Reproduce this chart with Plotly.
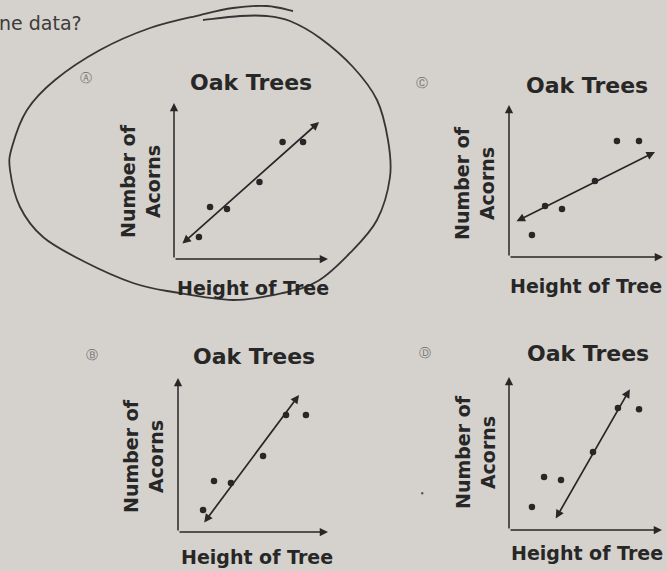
import plotly.graph_objects as go

W, H = 667, 571
BG = "#d5d1cc"
INK = "#272727"
PEN = "#353535"
FONT = "DejaVu Sans"

# Answer choices in reading order of the grid: A (top-left), C (top-right),
# B (bottom-left), D (bottom-right).  Axis units run 0-10 on both axes.
choices = ["A", "C", "B", "D"]

a_height = [1.62, 2.34, 3.44, 5.55, 7.05, 8.38]
a_acorns = [1.41, 3.33, 3.21, 4.94, 7.50, 7.50]
a_fit_height = [0.45, 9.42]
a_fit_acorns = [0.90, 8.78]

c_height = [1.49, 2.34, 3.44, 5.58, 7.01, 8.44]
c_acorns = [1.45, 3.36, 3.16, 5.00, 7.63, 7.63]
c_fit_height = [0.39, 9.48]
c_fit_acorns = [2.30, 6.91]

b_height = [1.67, 2.40, 3.53, 5.67, 7.20, 8.53]
b_acorns = [1.43, 3.31, 3.18, 4.94, 7.60, 7.60]
b_fit_height = [1.67, 8.07]
b_fit_acorns = [0.52, 8.90]

d_height = [1.50, 2.29, 3.40, 5.49, 7.12, 8.50]
d_acorns = [1.50, 3.46, 3.27, 5.10, 7.97, 7.90]
d_fit_height = [3.00, 7.90]
d_fit_acorns = [0.65, 9.20]

series = {
    "A": (a_height, a_acorns, a_fit_height, a_fit_acorns),
    "C": (c_height, c_acorns, c_fit_height, c_fit_acorns),
    "B": (b_height, b_acorns, b_fit_height, b_fit_acorns),
    "D": (d_height, d_acorns, d_fit_height, d_fit_acorns),
}

title_text = "Oak Trees"
x_title = "Height of Tree"
y_title = "Number of<br>Acorns"
badges = {"A": "\u24b6", "B": "\u24b7", "C": "\u24b8", "D": "\u24b9"}

# Page placement of each small chart, in pixels from the top-left corner.
boxes = {
    "A": dict(x0=174, x1=328, y0=259, y1=103, title=(251, 83), xlab=(253, 288), ylab=(140, 181), badge=(86, 78)),
    "C": dict(x0=509, x1=663, y0=257, y1=105, title=(587, 85), xlab=(586, 286), ylab=(474, 183), badge=(422, 83)),
    "B": dict(x0=178, x1=328, y0=532, y1=378, title=(254, 356), xlab=(257, 557), ylab=(144, 456), badge=(92, 355)),
    "D": dict(x0=509, x1=662, y0=530, y1=377, title=(588, 353), xlab=(587, 553), ylab=(475, 452), badge=(425, 353)),
}


def px(x):
    return x / W


def py(y):
    return 1 - y / H


fig = go.Figure()
annotations = []
shapes = []

for i, key in enumerate(choices):
    n = "" if i == 0 else str(i + 1)
    xr, yr = "x" + n, "y" + n
    b = boxes[key]
    fig.layout["xaxis" + n] = dict(domain=[px(b["x0"]), px(b["x1"])], range=[0, 10],
                                   visible=False, anchor=yr, fixedrange=True)
    fig.layout["yaxis" + n] = dict(domain=[py(b["y0"]), py(b["y1"])], range=[0, 10],
                                   visible=False, anchor=xr, fixedrange=True)

    hx, ay_vals, fx, fy = series[key]

    # axes drawn as arrows from the origin
    for (tx, ty) in [(10, 0), (0, 10)]:
        annotations.append(dict(x=tx, y=ty, ax=0, ay=0, xref=xr, yref=yr, axref=xr, ayref=yr,
                                text="", showarrow=True, arrowhead=2, arrowsize=1.1,
                                arrowwidth=1.5, arrowcolor=INK, standoff=0))

    # line of fit with arrowheads at both ends
    annotations.append(dict(x=fx[1], y=fy[1], ax=fx[0], ay=fy[0], xref=xr, yref=yr,
                            axref=xr, ayref=yr, text="", showarrow=True, arrowhead=2,
                            arrowside="end+start", arrowsize=1.0, arrowwidth=1.7,
                            arrowcolor=INK, standoff=0, startstandoff=0))

    fig.add_trace(go.Scatter(x=hx, y=ay_vals, xaxis=xr, yaxis=yr, mode="markers",
                             marker=dict(size=6.5, color=INK), cliponaxis=False,
                             showlegend=False, hoverinfo="skip"))

    tx, ty = b["title"]
    annotations.append(dict(x=px(tx), y=py(ty), xref="paper", yref="paper", text=title_text,
                            showarrow=False, xanchor="center", yanchor="middle",
                            font=dict(family=FONT, size=22, color=INK, weight="bold")))
    lx, ly = b["xlab"]
    annotations.append(dict(x=px(lx), y=py(ly), xref="paper", yref="paper", text=x_title,
                            showarrow=False, xanchor="center", yanchor="middle",
                            font=dict(family=FONT, size=19, color=INK, weight="bold")))
    vx, vy = b["ylab"]
    annotations.append(dict(x=px(vx), y=py(vy), xref="paper", yref="paper", text=y_title,
                            showarrow=False, xanchor="center", yanchor="middle", textangle=-90,
                            font=dict(family=FONT, size=19, color=INK, weight="bold")))
    bx, by = b["badge"]
    annotations.append(dict(x=px(bx), y=py(by), xref="paper", yref="paper", text=badges[key],
                            showarrow=False, xanchor="center", yanchor="middle",
                            font=dict(family=FONT, size=12, color="#707070")))

# tail of the question text at the top of the page
annotations.append(dict(x=0, y=py(23), xref="paper", yref="paper", text="ne data?",
                        showarrow=False, xanchor="left", yanchor="middle", xshift=-3,
                        font=dict(family=FONT, size=19, color="#3c3c3c")))

# pencil loop drawn around choice A
loop = [(203, 20), (240, 16), (267, 16), (290, 21), (320, 38), (353, 67), (377, 100),
        (388, 140), (390, 177), (377, 220), (350, 253), (318, 281), (283, 293), (233, 300),
        (173, 292), (133, 283), (83, 261), (43, 237), (20, 207), (10, 170), (12, 147),
        (27, 110), (55, 80), (100, 50), (150, 28), (200, 15), (233, 8), (267, 6), (293, 11)]


def smooth_path(pts):
    p = [(px(x), py(y)) for x, y in pts]
    d = "M {:.5f},{:.5f}".format(*p[0])
    for k in range(len(p) - 1):
        p0 = p[k - 1] if k > 0 else p[k]
        p1, p2 = p[k], p[k + 1]
        p3 = p[k + 2] if k + 2 < len(p) else p2
        c1 = (p1[0] + (p2[0] - p0[0]) / 6, p1[1] + (p2[1] - p0[1]) / 6)
        c2 = (p2[0] - (p3[0] - p1[0]) / 6, p2[1] - (p3[1] - p1[1]) / 6)
        d += " C {:.5f},{:.5f} {:.5f},{:.5f} {:.5f},{:.5f}".format(*c1, *c2, *p2)
    return d


shapes.append(dict(type="path", path=smooth_path(loop), xref="paper", yref="paper",
                   line=dict(color=PEN, width=1.8)))

# small speck on the page
shapes.append(dict(type="circle", xref="paper", yref="paper",
                   x0=px(421), x1=px(423.5), y0=py(494.5), y1=py(492),
                   fillcolor="#555555", line=dict(width=0)))

fig.update_layout(width=W, height=H, margin=dict(l=0, r=0, t=0, b=0),
                  paper_bgcolor=BG, plot_bgcolor="rgba(0,0,0,0)",
                  annotations=annotations, shapes=shapes, showlegend=False)

fig.write_html("out.html")
